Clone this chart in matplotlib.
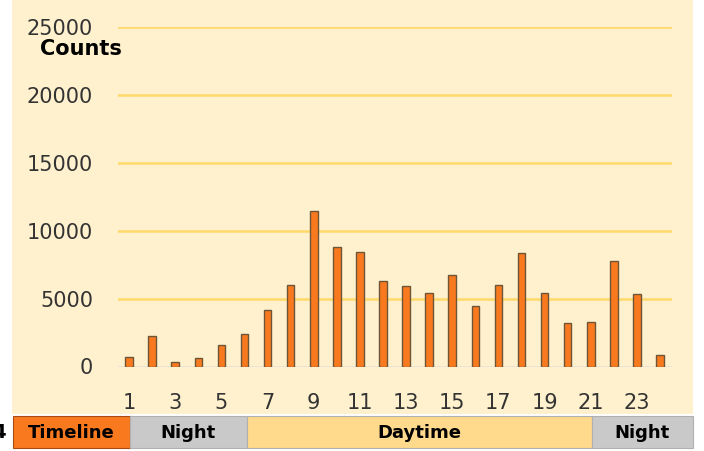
import matplotlib.pyplot as plt
from matplotlib.patches import Rectangle
import numpy as np

plt.rcParams["font.family"] = "DejaVu Sans"

W, H = 704, 451

hours = np.arange(1, 25)
counts = [690, 2250, 330, 650, 1610, 2400, 4190, 6030, 11470, 8810, 8400, 6280,
          5930, 5440, 6720, 4450, 6030, 8370, 5440, 3230, 3300, 7750, 5320, 860]
yticks = [0, 5000, 10000, 15000, 20000, 25000]
xtick_labels = [str(h) for h in range(1, 24, 2)]

# bottom strip: (label, left px, right px, color)
segments = [("Timeline", 13, 130, "#F9791E"),
            ("Night", 130, 247, "#C9C9C9"),
            ("Daytime", 247, 592, "#FFD98C"),
            ("Night", 592, 693, "#C9C9C9")]

C_PANEL = "#FFF1CD"
C_GRID = "#FFDA6A"
C_BAR = "#F97A1E"
C_EDGE = "#6E5537"


def fx(px):
    return px / W


def fy(py):
    return 1 - py / H


fig = plt.figure(figsize=(W / 100, H / 100), dpi=100)
fig.patch.set_facecolor("white")

# cream background panel
fig.patches.append(Rectangle((fx(12), fy(414)), fx(693) - fx(12), fy(0) - fy(414),
                             transform=fig.transFigure, facecolor=C_PANEL,
                             edgecolor="none", zorder=-2))

ax = fig.add_axes([fx(118), fy(366.5), fx(672) - fx(118), fy(27) - fy(366.5)])
ax.set_facecolor("none")
ax.set_zorder(2)
for s in ax.spines.values():
    s.set_visible(False)

for v in yticks[1:]:
    ax.axhline(v, color=C_GRID, lw=1.8, zorder=1)
ax.axhline(0, color="#E6E2D6", lw=2, zorder=1)

ax.bar(hours, counts, width=0.33, color=C_BAR, edgecolor=C_EDGE, linewidth=1.0, zorder=3)

ax.set_xlim(0.52, 24.52)
ax.set_ylim(0, 25000)
ax.set_yticks(yticks)
ax.set_yticklabels([str(v) for v in yticks], fontsize=15, color="#333333")
ax.set_xticks(np.arange(1, 24, 2))
ax.set_xticklabels(xtick_labels, fontsize=15, color="#333333")
ax.tick_params(axis="y", length=0, pad=18)
ax.tick_params(axis="x", length=0, pad=19)

fig.text(fx(40), fy(49), "Counts", fontsize=15, fontweight="bold", ha="left", va="center")

for label, x0, x1, col in segments:
    fig.patches.append(Rectangle((fx(x0), fy(448)), fx(x1) - fx(x0), fy(416) - fy(448),
                                 transform=fig.transFigure, facecolor=col,
                                 edgecolor="#B0B0B0" if col != "#F9791E" else "#A84B10",
                                 linewidth=0.8, zorder=1))
    fig.text(fx((x0 + x1) / 2), fy(433), label, fontsize=13, fontweight="bold",
             ha="center", va="center")

fig.text(fx(6), fy(433), "4", fontsize=14, fontweight="bold", ha="right", va="center")

plt.savefig("out.png", dpi=100)
plt.close()
